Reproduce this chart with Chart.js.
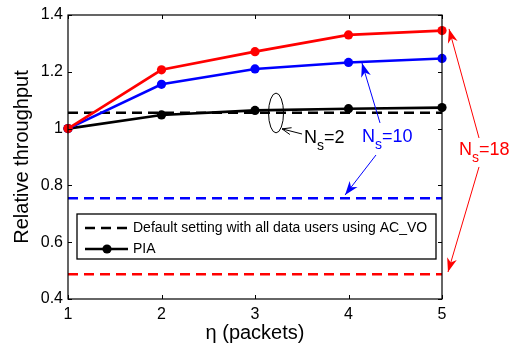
<!DOCTYPE html>
<html>
<head>
<meta charset="utf-8">
<script src="https://cdn.jsdelivr.net/npm/chart.js@4.4.1/dist/chart.umd.min.js"></script>
<style>
html,body{margin:0;padding:0;background:#fff;}
#wrap{width:512px;height:345px;position:relative;}
</style>
</head>
<body>
<div id="wrap"><canvas id="c" width="512" height="345"></canvas></div>
<script>
const etaValues = [1, 2, 3, 4, 5];
const piaNs2 = [1.0, 1.048, 1.064, 1.070, 1.074];
const piaNs10 = [1.0, 1.156, 1.210, 1.233, 1.247];
const piaNs18 = [1.0, 1.207, 1.271, 1.330, 1.345];
const defaultNs2 = 1.056;
const defaultNs10 = 0.755;
const defaultNs18 = 0.487;
const yTicks = [0.4, 0.6, 0.8, 1.0, 1.2, 1.4];
const xTicks = [1, 2, 3, 4, 5];
const legendLabels = ['Default setting with all data users using AC_VO', 'PIA'];

const FONT = '"Liberation Sans", Arial, sans-serif';
const pts = arr => etaValues.map((x, i) => ({x, y: arr[i]}));
const flat = v => [{x: etaValues[0], y: v}, {x: etaValues[etaValues.length - 1], y: v}];

function solid(color, data) {
  return {data: pts(data), borderColor: color, backgroundColor: color, borderWidth: 2.6,
    pointRadius: 4.6, pointHoverRadius: 4.6, pointBorderWidth: 0, clip: false, tension: 0};
}
function dashed(color, v) {
  return {data: flat(v), borderColor: color, borderWidth: 2.6, borderDash: [10, 6],
    pointRadius: 0, clip: false};
}

function arrowHead(ctx, x0, y0, x1, y1, len, wid, filled) {
  const a = Math.atan2(y1 - y0, x1 - x0);
  const c = Math.cos(a), s = Math.sin(a);
  const bx = x1 - len * c, by = y1 - len * s;
  const lx = bx - wid / 2 * s, ly = by + wid / 2 * c;
  const rx = bx + wid / 2 * s, ry = by - wid / 2 * c;
  ctx.beginPath();
  if (filled) {
    const nx = x1 - len * 0.7 * c, ny = y1 - len * 0.7 * s;
    ctx.moveTo(x1, y1); ctx.lineTo(lx, ly); ctx.lineTo(nx, ny); ctx.lineTo(rx, ry); ctx.closePath();
    ctx.fill();
  } else {
    ctx.moveTo(lx, ly); ctx.lineTo(x1, y1); ctx.lineTo(rx, ry); ctx.stroke();
  }
}

// annotations in data units
const annotations = [
  {color: '#000', label: '2', tx: 3.524, ty: 0.949,
   arrows: [{from: [3.503, 0.981], to: [3.289, 0.999], filled: false}]},
  {color: '#0000ff', label: '10', tx: 4.144, ty: 0.953,
   arrows: [{from: [4.337, 1.020], to: [4.144, 1.231], filled: true},
            {from: [4.294, 0.907], to: [3.963, 0.766], filled: true}]},
  {color: '#ff0000', label: '18', tx: 5.182, ty: 0.907,
   arrows: [{from: [5.396, 0.967], to: [5.075, 1.351], filled: true},
            {from: [5.396, 0.865], to: [5.064, 0.495], filled: true}]}
];
const ellipse = {cx: 3.225, cy: 1.055, rx: 0.08, ry: 0.07};

const decor = {
  id: 'decor',
  afterDraw(chart) {
    const {ctx, chartArea: ca, scales: {x, y}} = chart;
    ctx.save();
    // frame
    ctx.strokeStyle = '#000'; ctx.lineWidth = 1.2;
    ctx.strokeRect(ca.left, ca.top, ca.right - ca.left, ca.bottom - ca.top);
    // inward ticks
    ctx.lineWidth = 1;
    ctx.beginPath();
    xTicks.forEach(v => {
      const px = Math.round(x.getPixelForValue(v)) + 0.5;
      ctx.moveTo(px, ca.bottom); ctx.lineTo(px, ca.bottom - 4);
      ctx.moveTo(px, ca.top); ctx.lineTo(px, ca.top + 4);
    });
    yTicks.forEach(v => {
      const py = Math.round(y.getPixelForValue(v)) + 0.5;
      ctx.moveTo(ca.left, py); ctx.lineTo(ca.left + 4, py);
      ctx.moveTo(ca.right, py); ctx.lineTo(ca.right - 4, py);
    });
    ctx.stroke();

    // legend
    const lx = ca.left + 9, ly = 214, lw = 359, lh = 45;
    ctx.fillStyle = '#fff'; ctx.fillRect(lx, ly, lw, lh);
    ctx.strokeStyle = '#000'; ctx.lineWidth = 1.3; ctx.strokeRect(lx, ly, lw, lh);
    ctx.lineWidth = 2.6;
    ctx.setLineDash([10, 6]);
    ctx.beginPath(); ctx.moveTo(lx + 8, ly + 14); ctx.lineTo(lx + 51, ly + 14); ctx.stroke();
    ctx.setLineDash([]);
    ctx.beginPath(); ctx.moveTo(lx + 8, ly + 35); ctx.lineTo(lx + 51, ly + 35); ctx.stroke();
    ctx.fillStyle = '#000';
    ctx.beginPath(); ctx.arc(lx + 30, ly + 35, 4.6, 0, Math.PI * 2); ctx.fill();
    ctx.font = '14px ' + FONT; ctx.textBaseline = 'middle'; ctx.textAlign = 'left';
    ctx.fillText(legendLabels[0], lx + 56, ly + 14);
    ctx.fillText(legendLabels[1], lx + 56, ly + 35);

    // ellipse
    ctx.strokeStyle = '#000'; ctx.lineWidth = 1;
    const ecx = x.getPixelForValue(ellipse.cx), ecy = y.getPixelForValue(ellipse.cy);
    const erx = Math.abs(x.getPixelForValue(ellipse.cx + ellipse.rx) - ecx);
    const ery = Math.abs(y.getPixelForValue(ellipse.cy + ellipse.ry) - ecy);
    ctx.beginPath(); ctx.ellipse(ecx, ecy, erx, ery, 0, 0, Math.PI * 2); ctx.stroke();

    // annotations
    annotations.forEach(a => {
      ctx.strokeStyle = a.color; ctx.fillStyle = a.color; ctx.lineWidth = 1;
      a.arrows.forEach(ar => {
        const x0 = x.getPixelForValue(ar.from[0]), y0 = y.getPixelForValue(ar.from[1]);
        const x1 = x.getPixelForValue(ar.to[0]), y1 = y.getPixelForValue(ar.to[1]);
        ctx.beginPath(); ctx.moveTo(x0, y0); ctx.lineTo(x1, y1); ctx.stroke();
        arrowHead(ctx, x0, y0, x1, y1, ar.filled ? 14 : 9, ar.filled ? 10 : 7, ar.filled);
      });
      const tx = x.getPixelForValue(a.tx), ty = y.getPixelForValue(a.ty);
      ctx.textBaseline = 'alphabetic'; ctx.textAlign = 'left';
      ctx.font = '18px ' + FONT;
      ctx.fillText('N', tx, ty);
      const nw = ctx.measureText('N').width;
      ctx.font = '14px ' + FONT;
      ctx.fillText('s', tx + nw, ty + 7);
      const sw = ctx.measureText('s').width;
      ctx.font = '18px ' + FONT;
      ctx.fillText('=' + a.label, tx + nw + sw, ty);
    });

    // axis titles
    ctx.fillStyle = '#000';
    ctx.font = '20px ' + FONT; ctx.textAlign = 'center'; ctx.textBaseline = 'middle';
    ctx.fillText('η (packets)', (ca.left + ca.right) / 2, 333);
    ctx.save();
    ctx.translate(22, (ca.top + ca.bottom) / 2);
    ctx.rotate(-Math.PI / 2);
    ctx.fillText('Relative throughput', 0, 0);
    ctx.restore();
    ctx.restore();
  }
};

new Chart(document.getElementById('c'), {
  type: 'line',
  data: {
    datasets: [
      solid('#ff0000', piaNs18),
      solid('#0000ff', piaNs10),
      solid('#000000', piaNs2),
      dashed('#000000', defaultNs2),
      dashed('#0000ff', defaultNs10),
      dashed('#ff0000', defaultNs18)
    ]
  },
  options: {
    responsive: false,
    animation: false,
    events: [],
    layout: {padding: {left: 0, top: 15, right: 70, bottom: 0}},
    plugins: {legend: {display: false}, tooltip: {enabled: false}},
    scales: {
      x: {
        type: 'linear', min: 1, max: 5,
        grid: {display: false, drawTicks: false},
        border: {display: false},
        afterBuildTicks: s => { s.ticks = xTicks.map(v => ({value: v})); },
        afterFit: s => { s.height = 46; },
        ticks: {color: '#000', font: {size: 16, family: FONT}, padding: 6, maxRotation: 0,
          callback: v => String(v)}
      },
      y: {
        type: 'linear', min: 0.4, max: 1.4,
        grid: {display: false, drawTicks: false},
        border: {display: false},
        afterBuildTicks: s => { s.ticks = yTicks.map(v => ({value: v})); },
        afterFit: s => { s.width = 68; },
        ticks: {color: '#000', font: {size: 16, family: FONT}, padding: 5,
          callback: v => String(Math.round(v * 10) / 10)}
      }
    }
  },
  plugins: [decor]
});
</script>
</body>
</html>
